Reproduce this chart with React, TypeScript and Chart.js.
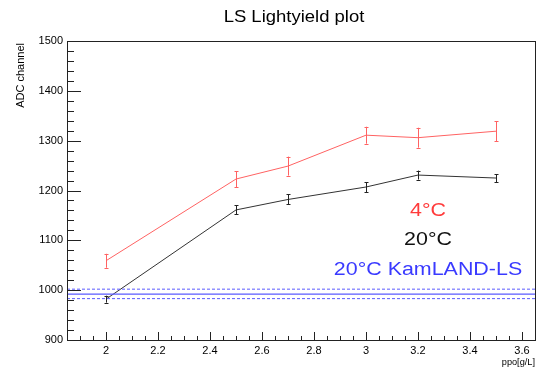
import React, { useEffect, useRef } from "react";
import { Chart, registerables } from "chart.js";

Chart.register(...registerables);

// ---- data ----
const ppo = [2.0, 2.5, 2.7, 3.0, 3.2, 3.5];
const ly4C = [1059, 1223, 1249, 1311, 1306, 1319];
const err4C = [14, 16, 19, 17, 20, 20];
const ly20C = [982, 1161, 1182, 1207, 1231, 1225];
const err20C = [7, 9, 10, 10, 9, 8];
const kamlandMean = 992;
const kamlandUpper = 1002;
const kamlandLower = 983;
const xRange = [1.85, 3.65];
const yRange = [900, 1500];
const xTickValues = [2, 2.2, 2.4, 2.6, 2.8, 3, 3.2, 3.4, 3.6];
const xTickLabels = ["2", "2.2", "2.4", "2.6", "2.8", "3", "3.2", "3.4", "3.6"];
const yTickValues = [900, 1000, 1100, 1200, 1300, 1400, 1500];
const yTickLabels = ["900", "1000", "1100", "1200", "1300", "1400", "1500"];
const titleText = "LS Lightyield plot";
const xTitle = "ppo[g/L]";
const yTitle = "ADC channel";
const legendLabels = ["4°C", "20°C", "20°C KamLAND-LS"];

const RED = "#ff3b3b";
const RED_LINE = "#ff6262";
const BLACK_LINE = "#333333";
const BLUE = "#3a3aff";
const BLUE_LINE = "#5a5aff";
const FONT = '"Liberation Sans", Arial, Helvetica, sans-serif';

function drawText(
  ctx: CanvasRenderingContext2D,
  s: string,
  x: number,
  y: number,
  size: number,
  color: string,
  align: CanvasTextAlign,
  sx = 1,
  rot = 0
) {
  ctx.save();
  ctx.translate(x, y);
  if (rot) ctx.rotate(rot);
  ctx.scale(sx, 1);
  ctx.font = `${size}px ${FONT}`;
  ctx.fillStyle = color;
  ctx.textAlign = align;
  ctx.textBaseline = "middle";
  ctx.fillText(s, 0, 0);
  ctx.restore();
}

const rootStylePlugin = {
  id: "rootStyle",
  afterDatasetsDraw(chart: any) {
    const ctx: CanvasRenderingContext2D = chart.ctx;
    const xs = chart.scales.x;
    const ys = chart.scales.y;
    const drawErr = (vals: number[], errs: number[], color: string) => {
      ctx.save();
      ctx.strokeStyle = color;
      ctx.lineWidth = 1;
      vals.forEach((v, i) => {
        const px = Math.round(xs.getPixelForValue(ppo[i])) + 0.5;
        const y1 = ys.getPixelForValue(v + errs[i]);
        const y2 = ys.getPixelForValue(v - errs[i]);
        ctx.beginPath();
        ctx.moveTo(px, y1);
        ctx.lineTo(px, y2);
        ctx.moveTo(px - 2, Math.round(y1) + 0.5);
        ctx.lineTo(px + 2, Math.round(y1) + 0.5);
        ctx.moveTo(px - 2, Math.round(y2) + 0.5);
        ctx.lineTo(px + 2, Math.round(y2) + 0.5);
        ctx.stroke();
      });
      ctx.restore();
    };
    drawErr(ly4C, err4C, RED_LINE);
    drawErr(ly20C, err20C, "#222222");
  },
  afterDraw(chart: any) {
    const ctx: CanvasRenderingContext2D = chart.ctx;
    const a = chart.chartArea;
    const xs = chart.scales.x;
    const ys = chart.scales.y;
    ctx.save();
    ctx.strokeStyle = "#222222";
    ctx.lineWidth = 1;
    ctx.strokeRect(a.left + 0.5, a.top + 0.5, a.right - a.left, a.bottom - a.top);
    // y ticks (inside)
    ctx.beginPath();
    for (let v = yRange[0]; v <= yRange[1] + 1e-6; v += 20) {
      const py = Math.round(ys.getPixelForValue(v)) + 0.5;
      const len = v % 100 === 0 ? 14 : 7;
      ctx.moveTo(a.left, py);
      ctx.lineTo(a.left + len, py);
    }
    // x ticks (inside)
    for (let k = 0; ; k++) {
      const v = xRange[0] + k * 0.05;
      if (v > xRange[1] + 1e-6) break;
      const px = Math.round(xs.getPixelForValue(v)) + 0.5;
      const major = Math.abs(v * 5 - Math.round(v * 5)) < 1e-6;
      const len = major ? 8 : 4;
      ctx.moveTo(px, a.bottom);
      ctx.lineTo(px, a.bottom - len);
    }
    ctx.stroke();
    ctx.restore();

    // titles
    drawText(ctx, titleText, 294, 17, 16.5, "#000", "center", 1.12);
    drawText(ctx, yTitle, 21, a.top + 2, 11, "#000", "right", 1, -Math.PI / 2);
    drawText(ctx, xTitle, a.right, 362, 9.2, "#000", "right", 1.0);

    // legend texts
    const lx = 428;
    drawText(ctx, legendLabels[0], lx, 211, 18, RED, "center", 1.19);
    drawText(ctx, legendLabels[1], lx, 240, 18, "#111", "center", 1.19);
    drawText(ctx, legendLabels[2], lx, 270, 18, BLUE, "center", 1.19);
  },
};

export default function App() {
  const ref = useRef<HTMLCanvasElement>(null);
  useEffect(() => {
    if (!ref.current) return;
    const chart = new Chart(ref.current, {
      type: "scatter",
      data: {
        datasets: [
          {
            label: legendLabels[2] + " upper",
            data: [
              { x: xRange[0], y: kamlandUpper },
              { x: xRange[1], y: kamlandUpper },
            ],
            showLine: true,
            borderColor: BLUE_LINE,
            borderWidth: 1,
            borderDash: [3, 2],
            pointRadius: 0,
          },
          {
            label: legendLabels[2] + " lower",
            data: [
              { x: xRange[0], y: kamlandLower },
              { x: xRange[1], y: kamlandLower },
            ],
            showLine: true,
            borderColor: BLUE_LINE,
            borderWidth: 1,
            borderDash: [3, 2],
            pointRadius: 0,
          },
          {
            label: legendLabels[2],
            data: [
              { x: xRange[0], y: kamlandMean },
              { x: xRange[1], y: kamlandMean },
            ],
            showLine: true,
            borderColor: BLUE_LINE,
            borderWidth: 1.3,
            pointRadius: 0,
          },
          {
            label: legendLabels[0],
            data: ppo.map((x, i) => ({ x, y: ly4C[i] })),
            showLine: true,
            borderColor: RED_LINE,
            borderWidth: 1,
            pointRadius: 0,
          },
          {
            label: legendLabels[1],
            data: ppo.map((x, i) => ({ x, y: ly20C[i] })),
            showLine: true,
            borderColor: BLACK_LINE,
            borderWidth: 1,
            pointRadius: 0,
          },
        ],
      },
      options: {
        responsive: false,
        animation: false,
        devicePixelRatio: 1,
        layout: { padding: { left: 0, top: 41, right: 2, bottom: 0 } },
        plugins: {
          legend: { display: false },
          title: { display: false },
          tooltip: { enabled: false },
        },
        scales: {
          x: {
            type: "linear",
            min: xRange[0],
            max: xRange[1],
            grid: { display: false, drawTicks: false },
            border: { display: false },
            afterBuildTicks: (s: any) => {
              s.ticks = xTickValues.map((v) => ({ value: v }));
            },
            afterFit: (s: any) => {
              s.height = 29;
            },
            ticks: {
              color: "#000",
              padding: 4,
              font: { family: FONT, size: 11 },
              maxRotation: 0,
              autoSkip: false,
              callback: (v: any) => {
                const i = xTickValues.findIndex((t) => Math.abs(t - Number(v)) < 1e-6);
                return i >= 0 ? xTickLabels[i] : "";
              },
            },
          },
          y: {
            type: "linear",
            min: yRange[0],
            max: yRange[1],
            grid: { display: false, drawTicks: false },
            border: { display: false },
            afterBuildTicks: (s: any) => {
              s.ticks = yTickValues.map((v) => ({ value: v }));
            },
            afterFit: (s: any) => {
              s.width = 67;
            },
            ticks: {
              color: "#000",
              padding: 4,
              font: { family: FONT, size: 11 },
              autoSkip: false,
              callback: (v: any) => {
                const i = yTickValues.findIndex((t) => Math.abs(t - Number(v)) < 1e-6);
                return i >= 0 ? yTickLabels[i] : "";
              },
            },
          },
        },
      },
      plugins: [rootStylePlugin],
    });
    return () => chart.destroy();
  }, []);
  return (
    <div style={{ position: "absolute", left: 0, top: 0, width: 537, height: 369, background: "#fff" }}>
      <canvas ref={ref} width={537} height={369} style={{ display: "block" }} />
    </div>
  );
}
